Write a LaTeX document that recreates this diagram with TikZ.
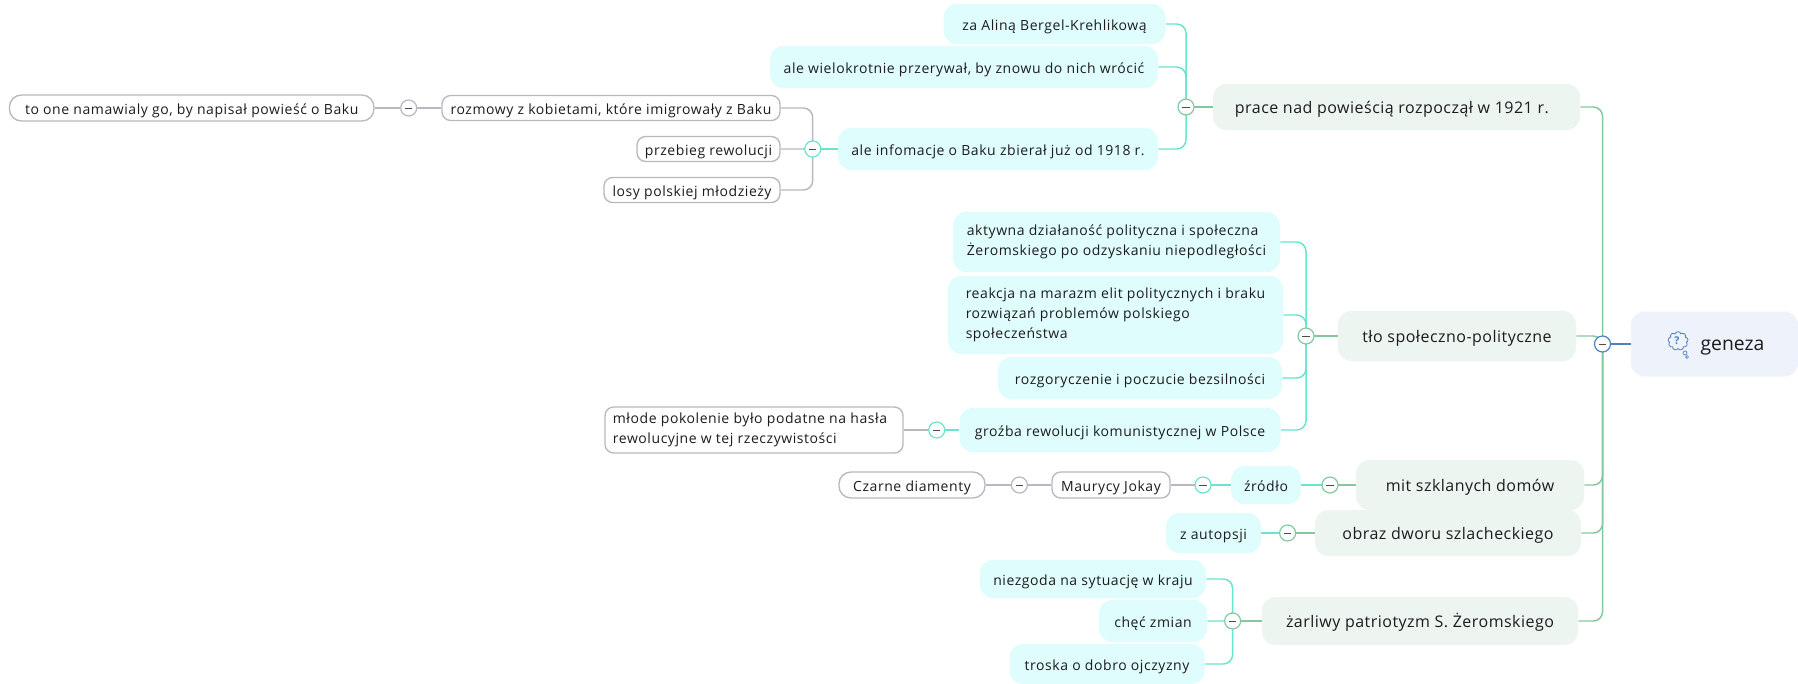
\documentclass[tikz,border=0pt]{standalone}
\usepackage{fontspec}
\setmainfont{Open Sans}
\usetikzlibrary{backgrounds,shapes.symbols}
\definecolor{rootfill}{HTML}{EDF2FB}
\definecolor{lonefill}{HTML}{EDF5F1}
\definecolor{ltwofill}{HTML}{E0FDFD}
\definecolor{bluel}{HTML}{4F80C0}
\definecolor{greenl}{HTML}{85C8A0}
\definecolor{cyanl}{HTML}{66E6CF}
\definecolor{grayl}{HTML}{B8B8C2}
\definecolor{txt}{HTML}{1C1C1C}
\tikzset{
  bx/.style 2 args={minimum width=#1*0.75pt,minimum height=#2*0.75pt},
  allbox/.style={inner sep=0pt,text=txt,align=left},
  blob/.style={rounded corners=10pt},
  struts/.style 2 args={execute at begin node={\rule{0pt}{#1pt}},execute at end node={\rule[-#2pt]{0pt}{#2pt}}},
  rootbox/.style={allbox,blob,fill=rootfill,struts={14}{4},font=\fontsize{14.5}{16}\selectfont},
  lonebox/.style={allbox,blob,fill=lonefill,struts={13}{3.25},font=\fontsize{12}{15}\selectfont\addfontfeature{LetterSpace=3}},
  ltwobox/.style={allbox,blob,fill=ltwofill,struts={12}{3},font=\fontsize{10.5}{15}\selectfont\addfontfeature{LetterSpace=4}},
  graybox/.style={allbox,draw=grayl,line width=1pt,fill=white,rounded corners=6.5pt,struts={12}{3},font=\fontsize{10.5}{15}\selectfont\addfontfeature{LetterSpace=4}},
  expander/.style={circle,draw=#1,line width=0.9pt,fill=white,inner sep=0pt,minimum size=16*0.75pt,
    path picture={\draw[line width=0.6pt,black!70] ([xshift=-2.8pt]path picture bounding box.center) -- ([xshift=2.8pt]path picture bounding box.center);}},
  conn/.style={line width=1.1pt,rounded corners=7pt,#1},
}
\begin{document}
\begin{tikzpicture}[x=0.75pt,y=-0.75pt]
\useasboundingbox (0,0) rectangle (1798,683);
% root
\node[rootbox,bx={167}{65}] (geneza) at (1714.5,344) {\hspace*{27pt}geneza};
\node[expander=bluel] (xroot) at (1602.5,344) {};
% main topics
\node[lonebox,bx={367}{46}] (prace) at (1396.5,107) {prace nad powieścią rozpoczął w 1921 r.\hspace*{7pt}};
\node[lonebox,bx={238}{50}] (tlo) at (1457,336) {tło społeczno-polityczne};
\node[lonebox,bx={228}{50}] (mit) at (1470,485) {mit szklanych domów};
\node[lonebox,bx={266}{46}] (obraz) at (1448,533) {obraz dworu szlacheckiego};
\node[lonebox,bx={316}{48}] (zarliwy) at (1420,621) {żarliwy patriotyzm S. Żeromskiego};
% prace
\node[expander=greenl] (xprace) at (1186,107) {};
\node[ltwobox,bx={222}{40}] (alina) at (1054.5,24) {za Aliną Bergel-Krehlikową};
\node[ltwobox,bx={388}{42}] (wielo) at (964,67) {ale wielokrotnie przerywał, by znowu do nich wrócić};
\node[ltwobox,bx={320}{42}] (info) at (998,149) {ale infomacje o Baku zbierał już od 1918 r.};
\node[expander=cyanl] (xinfo) at (812.7,149) {};
\node[graybox,bx={338}{25}] (rozmowy) at (611,108) {rozmowy z kobietami, które imigrowały z Baku};
\node[graybox,bx={143}{25}] (przebieg) at (708.5,149) {przebieg rewolucji};
\node[graybox,bx={176}{25}] (losy) at (692,190) {losy polskiej młodzieży};
\node[expander=grayl] (xrozm) at (408.7,108) {};
\node[graybox,rounded corners=9pt,bx={364.5}{26}] (toone) at (191.7,108) {to one namawialy go, by napisał powieść o Baku};
% tlo
\node[expander=greenl] (xtlo) at (1306,336) {};
\node[ltwobox,bx={327}{60}] (aktywna) at (1116.5,242) {aktywna działaność polityczna i społeczna\\Żeromskiego po odzyskaniu niepodległości};
\node[ltwobox,bx={335}{78}] (reakcja) at (1115.5,315) {reakcja na marazm elit politycznych i braku\\rozwiązań problemów polskiego\\społeczeństwa};
\node[ltwobox,bx={284}{42}] (rozgor) at (1140,378) {rozgoryczenie i poczucie bezsilności};
\node[ltwobox,bx={321}{44}] (grozba) at (1120,430) {groźba rewolucji komunistycznej w Polsce};
\node[expander=cyanl] (xgroz) at (936.7,430) {};
\node[graybox,bx={298}{46}] (mlode) at (754,430) {młode pokolenie było podatne na hasła\hspace*{6pt}\\rewolucyjne w tej rzeczywistości};
% mit
\node[expander=greenl] (xmit) at (1330,485) {};
\node[ltwobox,bx={70}{38}] (zrodlo) at (1266,485) {źródło};
\node[expander=cyanl] (xzrod) at (1203,485) {};
\node[graybox,bx={118}{26}] (jokay) at (1111,485) {Maurycy Jokay};
\node[expander=grayl] (xjok) at (1019.4,485) {};
\node[graybox,rounded corners=9pt,bx={146}{26}] (czarne) at (912,485) {Czarne diamenty};
% obraz
\node[expander=greenl] (xobraz) at (1287.6,533) {};
\node[ltwobox,bx={95}{40}] (autopsja) at (1213.5,533) {z autopsji};
% zarliwy
\node[expander=greenl] (xzarl) at (1232.6,621) {};
\node[ltwobox,bx={226}{38}] (niezgoda) at (1093,579) {niezgoda na sytuację w kraju};
\node[ltwobox,bx={108}{42}] (chec) at (1153,621) {chęć zmian};
\node[ltwobox,bx={195}{40}] (troska) at (1107,664) {troska o dobro ojczyzny};
% icon
\node[cloud,draw=bluel,line width=0.6pt,fill=rootfill,cloud puffs=9,aspect=1,minimum width=15pt,minimum height=14pt,inner sep=0pt] (thought) at (1678,341) {};
\node[text=bluel,inner sep=0pt,font=\bfseries\fontsize{8}{8}\selectfont] (mark) at (1677,341) {?};
\node[circle,draw=bluel,line width=0.5pt,inner sep=0pt,minimum size=3pt] (puffa) at (1685,353) {};
\node[circle,draw=bluel,line width=0.5pt,inner sep=0pt,minimum size=2.2pt] (puffb) at (1687,357) {};
\begin{scope}[on background layer]
\fill[white] (0,0) rectangle (1798,683);
\draw[conn=bluel] (xroot.center) -- (geneza.west);
\foreach \c in {prace,tlo,mit,obraz,zarliwy} \draw[conn=greenl] (xroot.center) |- (\c.east);
\draw[conn=greenl] (xprace.center) -- (prace.west);
\foreach \c in {alina,wielo,info} \draw[conn=cyanl] (xprace.center) |- (\c.east);
\draw[conn=cyanl] (xinfo.center) -- (info.west);
\foreach \c in {rozmowy,przebieg,losy} \draw[conn=grayl] (xinfo.center) |- (\c.east);
\draw[conn=grayl] (xrozm.center) -- (rozmowy.west);
\draw[conn=grayl] (xrozm.center) -- (toone.east);
\draw[conn=greenl] (xtlo.center) -- (tlo.west);
\foreach \c in {aktywna,reakcja,rozgor,grozba} \draw[conn=cyanl] (xtlo.center) |- (\c.east);
\draw[conn=cyanl] (xgroz.center) -- (grozba.west);
\draw[conn=grayl] (xgroz.center) -- (mlode.east);
\draw[conn=greenl] (xmit.center) -- (mit.west);
\draw[conn=cyanl] (xmit.center) -- (zrodlo.east);
\draw[conn=cyanl] (xzrod.center) -- (zrodlo.west);
\draw[conn=grayl] (xzrod.center) -- (jokay.east);
\draw[conn=grayl] (xjok.center) -- (jokay.west);
\draw[conn=grayl] (xjok.center) -- (czarne.east);
\draw[conn=greenl] (xobraz.center) -- (obraz.west);
\draw[conn=cyanl] (xobraz.center) -- (autopsja.east);
\draw[conn=greenl] (xzarl.center) -- (zarliwy.west);
\foreach \c in {niezgoda,chec,troska} \draw[conn=cyanl] (xzarl.center) |- (\c.east);
\end{scope}
\end{tikzpicture}
\end{document}
